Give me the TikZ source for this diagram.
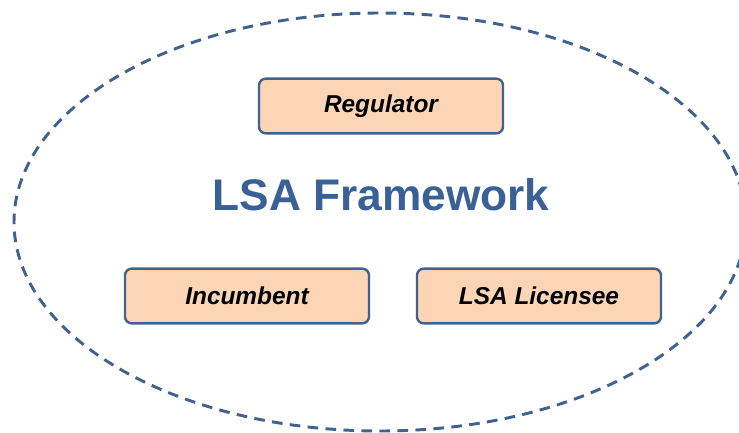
\documentclass[tikz,border=0pt]{standalone}
\usepackage{fontspec}
\setmainfont{Liberation Sans}
\definecolor{edgeblue}{HTML}{41628F}
\definecolor{titleblue}{HTML}{3A6195}
\definecolor{peach}{HTML}{FBD5B5}
\begin{document}
\begin{tikzpicture}[x=0.75pt,y=-0.75pt,
  rolebox/.style={draw=edgeblue, line width=1.8pt, fill=peach, rounded corners=5pt,
    minimum width=183pt, minimum height=41pt, inner sep=0pt,
    font=\fontsize{18.3}{20}\selectfont\bfseries\itshape, text=black},
  boundary/.style={draw=edgeblue, line width=2.2pt, dash pattern=on 8pt off 5.5pt}]
  \useasboundingbox (0,0) rectangle (739,432);
  \clip (0,0) rectangle (739,432);
  % dashed framework boundary
  \draw[boundary] (380,222) ellipse [x radius=366, y radius=209];
  % title
  \node[text=titleblue, font=\fontsize{33.2}{36}\selectfont\bfseries] (title) at (381,195) {LSA Framework};
  % actors
  \node[rolebox] (reg) at (381,106) {Regulator};
  \node[rolebox] (inc) at (247,296) {Incumbent};
  \node[rolebox] (lic) at (539,296) {LSA Licensee};
\end{tikzpicture}
\end{document}
